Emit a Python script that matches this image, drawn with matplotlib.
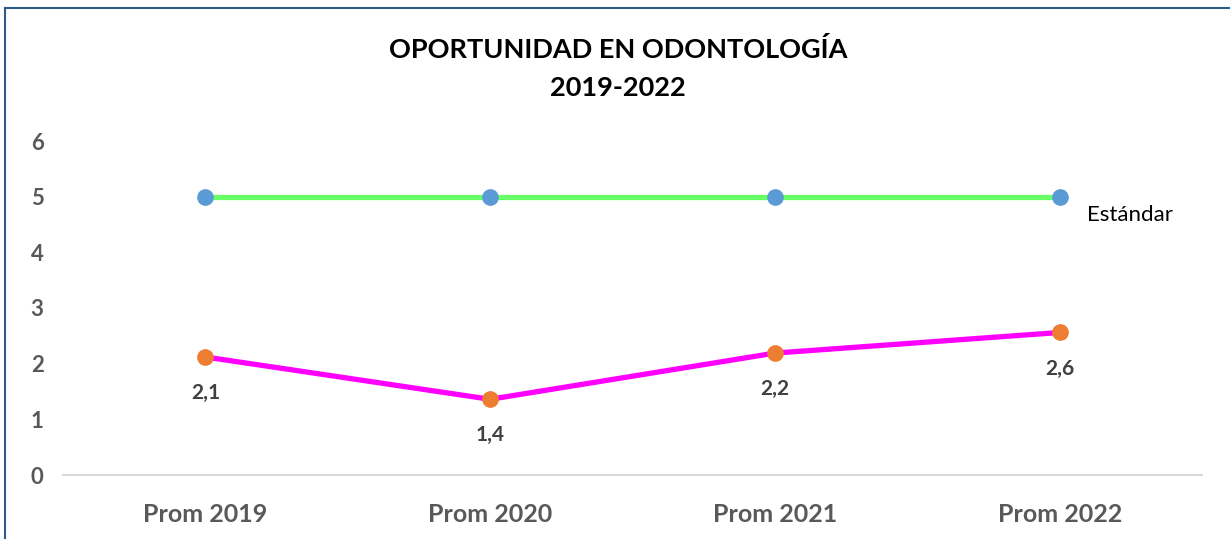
import matplotlib
matplotlib.use("Agg")
import matplotlib.pyplot as plt
from matplotlib.lines import Line2D

plt.rcParams["font.family"] = ["Lato", "DejaVu Sans"]

# Data
categories = ["Prom 2019", "Prom 2020", "Prom 2021", "Prom 2022"]
estandar = [5, 5, 5, 5]
oportunidad = [2.12, 1.36, 2.19, 2.56]
y_ticks = [0, 1, 2, 3, 4, 5, 6]

fig = plt.figure(figsize=(12.3, 5.39), dpi=100)
ax = fig.add_axes([63 / 1230, 1 - 475 / 539, (1202 - 63) / 1230, (475 - 141) / 539])

x = list(range(len(categories)))

# Standard line
ax.plot(x, estandar, color="#66FF66", linewidth=3.8, marker="o",
        markersize=11, markerfacecolor="#5B9BD5", markeredgecolor="#5B9BD5",
        zorder=3, solid_capstyle="butt")

# Actual values
ax.plot(x, oportunidad, color="#FF00FF", linewidth=3.8, marker="o",
        markersize=11, markerfacecolor="#ED7D31", markeredgecolor="#ED7D31",
        zorder=3)

for xi, v in zip(x, oportunidad):
    ax.annotate(f"{v:.1f}".replace(".", ","), (xi, v), xytext=(0, -26),
                textcoords="offset points", ha="center", va="center",
                fontsize=15, fontweight="bold", color="#404040")

ax.annotate("Estándar", (x[-1], estandar[-1]), xytext=(20, -13),
            textcoords="offset points", ha="left", va="center",
            fontsize=16, color="black")

ax.set_xlim(-0.5, len(categories) - 0.5)
ax.set_ylim(0, 6)
ax.set_xticks(x)
ax.set_xticklabels(categories, fontsize=18, fontweight="bold", color="#595959")
ax.set_yticks(y_ticks)
ax.set_yticklabels([str(t) for t in y_ticks], fontsize=16, fontweight="bold",
                   color="#595959")
ax.tick_params(axis="both", length=0)
ax.tick_params(axis="x", pad=20)
ax.tick_params(axis="y", pad=14)

for side in ["top", "right", "left"]:
    ax.spines[side].set_visible(False)
ax.spines["bottom"].set_color("#D9D9D9")
ax.spines["bottom"].set_linewidth(1.5)

fig.text(618 / 1230, 1 - 50 / 539, "OPORTUNIDAD EN ODONTOLOGÍA",
         ha="center", va="center", fontsize=19.5, fontweight="bold", color="black")
fig.text(618 / 1230, 1 - 88 / 539, "2019-2022",
         ha="center", va="center", fontsize=19.5, fontweight="bold", color="black")

# Frame border (top and left visible)
fig.add_artist(Line2D([5 / 1230, 5 / 1230], [0, 1 - 8 / 539],
                      transform=fig.transFigure, color="#2E5C8A", linewidth=1.5))
fig.add_artist(Line2D([5 / 1230, 1], [1 - 8 / 539, 1 - 8 / 539],
                      transform=fig.transFigure, color="#2E5C8A", linewidth=1.5))

fig.savefig("out.png", dpi=100)
